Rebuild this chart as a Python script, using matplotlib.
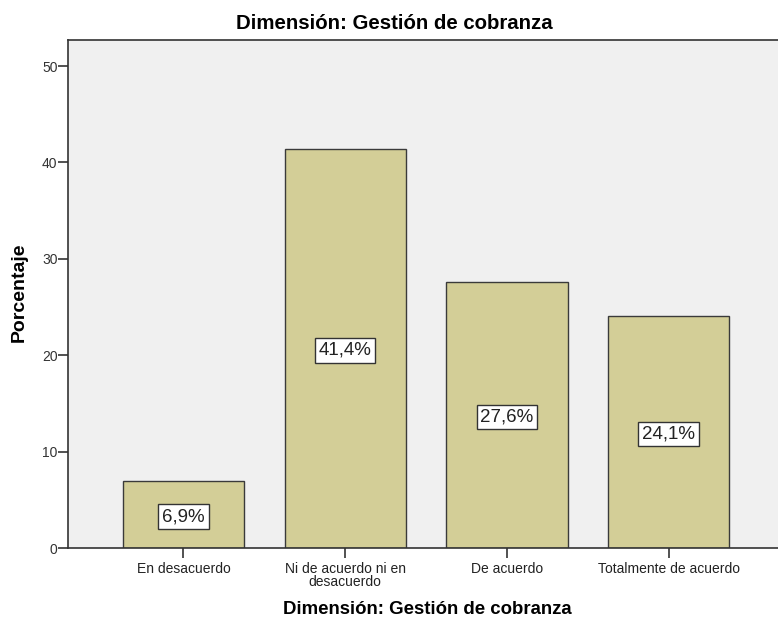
import matplotlib
matplotlib.use("Agg")
import matplotlib.pyplot as plt

categories = ["En desacuerdo", "Ni de acuerdo ni en\ndesacuerdo", "De acuerdo", "Totalmente de acuerdo"]
values = [6.9, 41.4, 27.6, 24.1]
labels = ["6,9%", "41,4%", "27,6%", "24,1%"]
yticks = [0, 10, 20, 30, 40, 50]

plt.rcParams['font.family'] = ['Liberation Sans', 'DejaVu Sans']

fig = plt.figure(figsize=(7.78, 6.19), dpi=100)
ax = fig.add_axes([68/778, 71/619, 710/778, 508/619])
ax.set_facecolor('#F0F0F0')

x = list(range(len(categories)))
ax.bar(x, values, width=0.75, color='#D3CE97', edgecolor='#3A3A3A', linewidth=1.0, zorder=2)
for xi, v, lab in zip(x, values, labels):
    ax.text(xi, v / 2, lab, ha='center', va='center_baseline', fontsize=13.5, color='#222222', zorder=3,
            bbox=dict(boxstyle='square,pad=0.2', facecolor='white', edgecolor='#333333', linewidth=1.0))

ax.set_xlim(-0.714, 3.676)
ax.set_ylim(0, 52.7)
ax.set_yticks(yticks)
ax.set_xticks(x)
ax.set_xticklabels(categories, fontsize=10, linespacing=0.9)
ax.tick_params(axis='y', labelsize=10, length=7, width=1.2, color='#333333', labelcolor='#333333', pad=0.5)
ax.tick_params(axis='x', length=7, width=1.2, color='#333333', labelcolor='#222222', pad=3)

for s in ['left', 'bottom', 'top']:
    ax.spines[s].set_color('#333333')
    ax.spines[s].set_linewidth(1.2)
ax.spines['right'].set_visible(False)

fig.text(394/778, 1 - 23.5/619, "Dimensión: Gestión de cobranza", fontsize=14.7, fontweight='bold',
         ha='center', va='center')
fig.text(427/778, 1 - 610/619, "Dimensión: Gestión de cobranza", fontsize=13.4, fontweight='bold',
         ha='center', va='center')
fig.text(19.5/778, 1 - 292/619, "Porcentaje", fontsize=14, fontweight='bold', rotation=90,
         ha='center', va='center')

fig.savefig("out.png", dpi=100)
